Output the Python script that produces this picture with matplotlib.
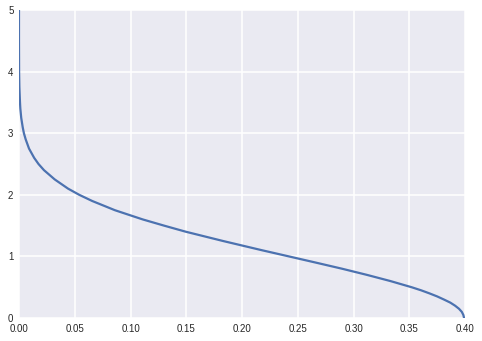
import numpy as np
import matplotlib
matplotlib.use('Agg')
import matplotlib.pyplot as plt

# values (x, y)
y_vals = [0.0, 0.02, 0.05, 0.1, 0.15, 0.2, 0.25, 0.3, 0.35, 0.4, 0.45, 0.5,
          0.6, 0.7, 0.8, 0.9, 1.0, 1.1, 1.25, 1.4, 1.5, 1.6, 1.75, 1.9, 2.0,
          2.1, 2.25, 2.4, 2.5, 2.6, 2.75, 2.9, 3.0, 3.1, 3.25, 3.4, 3.5,
          3.75, 4.0, 4.5, 5.0]
x_vals = [0.399, 0.3988, 0.3984, 0.397, 0.3945, 0.391, 0.3867, 0.381, 0.375,
          0.368, 0.3605, 0.352, 0.333, 0.312, 0.2897, 0.266, 0.242, 0.2179,
          0.183, 0.1497, 0.130, 0.111, 0.086, 0.0656, 0.054, 0.044, 0.032,
          0.0224, 0.0175, 0.0136, 0.009, 0.006, 0.0044, 0.0033, 0.002,
          0.0012, 0.0009, 0.00035, 0.0001, 0.0, 0.0]

x_ticks = [0.00, 0.05, 0.10, 0.15, 0.20, 0.25, 0.30, 0.35, 0.40]
y_ticks = [0, 1, 2, 3, 4, 5]

plt.rcParams['font.family'] = ['Liberation Sans', 'DejaVu Sans']

fig = plt.figure(figsize=(4.82, 3.41), dpi=100)
ax = fig.add_axes([0.0394, 0.0674, 0.9256, 0.9033])
ax.set_facecolor('#EAEAF2')
for s in ax.spines.values():
    s.set_visible(False)
ax.grid(True, color='white', linewidth=1.1)
ax.set_axisbelow(True)

ax.plot(x_vals, y_vals, color='#4C72B0', linewidth=1.6)

ax.set_xlim(0, 0.40)
ax.set_ylim(0, 5)
ax.set_xticks(x_ticks)
ax.set_xticklabels(['%.2f' % t for t in x_ticks])
ax.set_yticks(y_ticks)
ax.tick_params(length=0, labelsize=7, labelcolor='#262626', pad=4)

fig.savefig('out.png', dpi=100)
